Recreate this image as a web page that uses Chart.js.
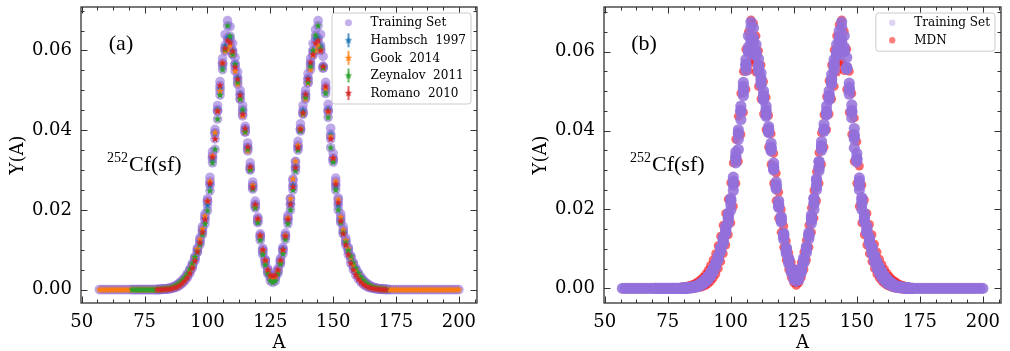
<!DOCTYPE html>
<html>
<head>
<meta charset="utf-8">
<script src="https://cdn.jsdelivr.net/npm/chart.js@4.4.1/dist/chart.umd.min.js"></script>
<style>
  body { margin: 0; background: #fff; }
  #wrap { position: relative; width: 1010px; height: 351px; }
  canvas { position: absolute; top: 0; }
</style>
</head>
<body>
<div id="wrap">
  <canvas id="cva" width="505" height="351" style="left:0px"></canvas>
  <canvas id="cvb" width="505" height="351" style="left:505px"></canvas>
</div>
<script>
// axes
const xTicks = [50, 75, 100, 125, 150, 175, 200];
const yTicks = [0, 0.02, 0.04, 0.06];
const xMinor = 6.25, yMinor = 0.005;
const xRange = [49.7, 207.2];
const yRangeA = [-0.00335, 0.0709];
const yRangeB = [-0.0037, 0.0713];

// experimental mass yields Y(A), first mass number then one value per A
const hambschA0 = 80;
const hambschY = [0.00002,0.00004,0.00009,0.00014,0.0002,0.0003,0.00045,0.0007,0.001,0.0014,
  0.0019,0.0026,0.0035,0.0046,0.0059,0.0077,0.0099,0.0121,0.0148,0.0178,
  0.0212,0.0262,0.0328,0.0392,0.0452,0.0505,0.0562,0.0612,0.0632,0.0630,
  0.0600,0.0566,0.0532,0.0490,0.0448,0.0402,0.0356,0.0306,0.0260,0.0212,
  0.0171,0.0131,0.0094,0.0068,0.0044,0.0030,0.0026,0.0030,0.0046,0.0069,
  0.0102,0.0135,0.0174,0.0215,0.0262,0.0308,0.0358,0.0403,0.0450,0.0488,
  0.0530,0.0566,0.0598,0.0630,0.0632,0.0612,0.0560,0.0502,0.0452,0.0390,
  0.0326,0.0260,0.0212,0.0177,0.0147,0.0121,0.0099,0.0076,0.0058,0.0046,
  0.0035,0.0025,0.0019,0.0013,0.0009,0.0006,0.0004,0.0003,0.0002,0.00014,
  0.00009,0.00005,0.00002];

const gookA0 = 57;
const gookY = [0,0,0,0,0,0,0,0,0,0, 0,0,0,0,0,0,0,0,0,0, 0,0,0,
  0.00001,0.00003,0.00008,0.00013,0.0002,0.0003,0.0005,0.0007,0.001,0.0014,
  0.002,0.0027,0.0036,0.0047,0.0061,0.0079,0.0102,0.0126,0.0152,0.0184,
  0.0222,0.0272,0.0336,0.0394,0.0448,0.0498,0.0568,0.0598,0.0602,0.0612,
  0.0590,0.0548,0.0515,0.0478,0.0436,0.0395,0.0348,0.0302,0.0262,0.0208,
  0.0175,0.0134,0.0098,0.0072,0.0046,0.0033,0.0028,0.0031,0.0046,0.0070,
  0.0098,0.0136,0.0180,0.0228,0.0278,0.0322,0.0362,0.0404,0.0440,0.0478,
  0.0518,0.0552,0.0588,0.0600,0.0612,0.0600,0.0556,0.0504,0.0446,0.0384,
  0.0328,0.0272,0.0226,0.0182,0.0150,0.0124,0.0103,0.0080,0.0062,0.0048,
  0.0037,0.0027,0.0020,0.0014,0.0010,0.0007,0.0005,0.0003,0.0002,0.00013,
  0.00008,0.00004,0.00002,
  0,0,0,0,0,0,0,0,0,0, 0,0,0,0,0,0,0,0,0,0, 0,0,0,0,0,0,0,0];

const zeynalovA0 = 70;
const zeynalovY = [0,0,0,0,0,0,0,0,0,0,
  0.00004,0.00007,0.00012,0.0002,0.0003,0.0004,0.0006,0.0009,0.0013,0.0018,
  0.0024,0.0031,0.0040,0.0052,0.0066,0.0082,0.0094,0.0113,0.0138,0.0165,
  0.0198,0.0248,0.0318,0.0352,0.0428,0.0488,0.0552,0.0602,0.0662,0.0636,
  0.0590,0.0565,0.0520,0.0478,0.0452,0.0396,0.0352,0.0300,0.0252,0.0205,
  0.0168,0.0124,0.0088,0.0062,0.0040,0.0022,0.0018,0.0022,0.0040,0.0064,
  0.0090,0.0126,0.0165,0.0200,0.0250,0.0298,0.0350,0.0398,0.0442,0.0482,
  0.0520,0.0560,0.0600,0.0638,0.0662,0.0605,0.0556,0.0492,0.0432,0.0356,
  0.0320,0.0250,0.0200,0.0168,0.0142,0.0118,0.0098,0.0084,0.0068,0.0054,
  0.0042,0.0032,0.0024,0.0018,0.0013,0.0009,0.0006,0.0004,0.0003,0.0002,
  0.0001,0.00006];

const romanoA0 = 80;
const romanoY = [0.00002,0.00003,0.00005,0.0001,0.00012,0.0002,0.0003,0.0005,0.0007,0.0011,
  0.0016,0.0022,0.0030,0.0041,0.0054,0.0072,0.0095,0.0118,0.0144,0.0176,
  0.0222,0.0266,0.0332,0.0378,0.0448,0.0512,0.0568,0.0605,0.0625,0.0620,
  0.0598,0.0558,0.0528,0.0488,0.0440,0.0404,0.0358,0.0308,0.0256,0.0214,
  0.0178,0.0136,0.0100,0.0074,0.0050,0.0036,0.0034,0.0036,0.0050,0.0074,
  0.0100,0.0134,0.0176,0.0214,0.0258,0.0306,0.0356,0.0402,0.0444,0.0490,
  0.0528,0.0570,0.0590,0.0618,0.0625,0.0600,0.0560,0.0510,0.0448,0.0378,
  0.0330,0.0264,0.0218,0.0172,0.0140,0.0112,0.0088,0.0066,0.0050,0.0037,
  0.0027,0.0019,0.0013,0.0009,0.0006,0.0004,0.0003,0.0002,0.00012,0.00008,
  0.00005,0.00002];

// other evaluations that are only part of the training set
const otherA0 = 80;
const otherY = [0.00003,0.00006,0.0001,0.00016,0.00025,0.00035,0.0005,0.0007,0.001,0.0015,
  0.002,0.0028,0.0037,0.0049,0.0062,0.0080,0.0104,0.0130,0.0158,0.0190,
  0.0228,0.0282,0.0346,0.0402,0.0462,0.0522,0.0580,0.0640,0.0675,0.0660,
  0.0618,0.0582,0.0546,0.0500,0.0462,0.0410,0.0368,0.0318,0.0270,0.0222,
  0.0182,0.0140,0.0104,0.0076,0.0052,0.0038,0.0030,0.0036,0.0052,0.0078,
  0.0106,0.0142,0.0186,0.0228,0.0274,0.0320,0.0372,0.0416,0.0462,0.0500,
  0.0542,0.0580,0.0618,0.0652,0.0675,0.0640,0.0585,0.0520,0.0465,0.0405,
  0.0342,0.0280,0.0230,0.0190,0.0158,0.0130,0.0106,0.0084,0.0066,0.0051,
  0.0040,0.0030,0.0022,0.0016,0.0011,0.0008,0.0005,0.0004,0.0003,0.0002,
  0.00012,0.00007,0.00003];

// MDN samples (upper and lower spread)
const mdnA0 = 80;
const mdnHiY = [0.0003,0.0004,0.0005,0.0006,0.0008,0.0010,0.0013,0.0017,0.0022,0.0028,
  0.0036,0.0046,0.0058,0.0072,0.0088,0.0108,0.0132,0.0160,0.0190,0.0226,
  0.0268,0.0318,0.0378,0.0436,0.0494,0.0550,0.0606,0.0650,0.0680,0.0672,
  0.0640,0.0602,0.0566,0.0524,0.0484,0.0438,0.0392,0.0342,0.0292,0.0244,
  0.0200,0.0158,0.0120,0.0090,0.0066,0.0050,0.0044,0.0050,0.0066,0.0092,
  0.0122,0.0160,0.0204,0.0248,0.0296,0.0344,0.0394,0.0440,0.0486,0.0526,
  0.0566,0.0604,0.0640,0.0668,0.0680,0.0652,0.0606,0.0550,0.0494,0.0432,
  0.0372,0.0310,0.0262,0.0224,0.0190,0.0162,0.0136,0.0112,0.0092,0.0074,
  0.0060,0.0048,0.0038,0.0030,0.0023,0.0018,0.0014,0.0010,0.0008,0.0006,
  0.0004,0.0003,0.0002];
const mdnLoY = [-0.0002,-0.0002,-0.0002,-0.0001,-0.0001,0,0.0001,0.0002,0.0003,0.0005,
  0.0008,0.0012,0.0018,0.0026,0.0036,0.0050,0.0068,0.0088,0.0110,0.0136,
  0.0166,0.0208,0.0266,0.0322,0.0390,0.0446,0.0504,0.0552,0.0578,0.0572,
  0.0548,0.0512,0.0480,0.0442,0.0402,0.0358,0.0314,0.0266,0.0222,0.0178,
  0.0142,0.0104,0.0072,0.0048,0.0028,0.0014,0.0008,0.0014,0.0028,0.0048,
  0.0072,0.0104,0.0142,0.0178,0.0222,0.0266,0.0314,0.0358,0.0402,0.0442,
  0.0480,0.0512,0.0548,0.0568,0.0574,0.0552,0.0504,0.0446,0.0390,0.0322,
  0.0266,0.0208,0.0166,0.0136,0.0110,0.0088,0.0068,0.0050,0.0036,0.0026,
  0.0018,0.0012,0.0008,0.0005,0.0003,0.0001,0,-0.0001,-0.0002,-0.0002,
  -0.0002,-0.0001,0];

const purple = '147,112,219';
const cBlue = '#1f77b4', cOrange = '#ff7f0e', cGreen = '#2ca02c', cRed = '#d62728';

Chart.defaults.font.family = '"DejaVu Serif", serif';
Chart.defaults.color = '#000';

function pts(a0, ys) {
  return ys.map((y, i) => ({ x: a0 + i, y: y }));
}

// filled star marker (optionally with a vertical error bar, for the legend)
function starImg(color, r, barHalf) {
  const size = Math.ceil(2 * Math.max(r, barHalf || 0) + 2);
  const c = document.createElement('canvas');
  c.width = size; c.height = size;
  const g = c.getContext('2d');
  const cx = size / 2, cy = size / 2;
  if (barHalf) {
    g.strokeStyle = color; g.lineWidth = 1.5;
    g.beginPath(); g.moveTo(cx, cy - barHalf); g.lineTo(cx, cy + barHalf); g.stroke();
  }
  g.fillStyle = color;
  g.beginPath();
  for (let k = 0; k < 10; k++) {
    const rr = k % 2 ? r * 0.42 : r;
    const a = -Math.PI / 2 + k * Math.PI / 5;
    g.lineTo(cx + rr * Math.cos(a), cy + rr * Math.sin(a));
  }
  g.closePath(); g.fill();
  return c;
}

const trainPts = [].concat(pts(hambschA0, hambschY), pts(gookA0, gookY),
  pts(zeynalovA0, zeynalovY), pts(romanoA0, romanoY), pts(otherA0, otherY));

const deco = {
  id: 'deco',
  afterDatasetsDraw(chart) {
    const ctx = chart.ctx, ca = chart.chartArea;
    const sx = chart.scales.x, sy = chart.scales.y;
    ctx.save();
    ctx.strokeStyle = '#333';
    ctx.lineWidth = 1;
    ctx.beginPath();
    for (let k = Math.ceil(sx.min / xMinor); k * xMinor <= sx.max; k++) {
      const len = k % 4 === 0 ? 6.5 : 3.5;
      const px = Math.round(sx.getPixelForValue(k * xMinor)) + 0.5;
      ctx.moveTo(px, ca.bottom); ctx.lineTo(px, ca.bottom - len);
      ctx.moveTo(px, ca.top); ctx.lineTo(px, ca.top + len);
    }
    for (let k = Math.ceil(sy.min / yMinor); k * yMinor <= sy.max; k++) {
      const len = k % 4 === 0 ? 6.5 : 3.5;
      const py = Math.round(sy.getPixelForValue(k * yMinor)) + 0.5;
      ctx.moveTo(ca.left, py); ctx.lineTo(ca.left + len, py);
      ctx.moveTo(ca.right, py); ctx.lineTo(ca.right - len, py);
    }
    ctx.stroke();
    ctx.lineWidth = 1.3;
    ctx.strokeRect(ca.left, ca.top, ca.right - ca.left, ca.bottom - ca.top);
    ctx.restore();
  },
  afterDraw(chart) {
    const o = chart.options.plugins.deco;
    const ctx = chart.ctx, ca = chart.chartArea;
    ctx.save();
    // panel tag and reaction
    ctx.fillStyle = '#000';
    ctx.textBaseline = 'middle';
    ctx.textAlign = 'center';
    ctx.font = '22px "Liberation Serif"';
    ctx.fillText(o.tag, ca.left + 40, ca.top + 37);
    ctx.textAlign = 'left';
    ctx.textBaseline = 'alphabetic';
    ctx.font = '14px "Liberation Serif"';
    const x0 = ca.left + 26;
    ctx.fillText('252', x0, ca.top + 155);
    const w0 = ctx.measureText('252').width;
    ctx.font = '22px "Liberation Serif"';
    ctx.fillText('Cf(sf)', x0 + w0 + 1, ca.top + 163.5);

    // legend
    ctx.font = '12px "DejaVu Serif"';
    let tw = 0;
    o.legend.forEach(it => { tw = Math.max(tw, ctx.measureText(it.text).width); });
    const rowH = 17.6;
    const bw = 38.5 + tw + 5, bh = rowH * o.legend.length + 3;
    const bx = ca.right - 6 - bw, by = ca.top + 6;
    ctx.beginPath();
    if (ctx.roundRect) ctx.roundRect(bx, by, bw, bh, 3); else ctx.rect(bx, by, bw, bh);
    ctx.fillStyle = 'rgba(255,255,255,0.8)';
    ctx.fill();
    ctx.strokeStyle = '#cccccc';
    ctx.lineWidth = 1;
    ctx.stroke();
    ctx.textBaseline = 'middle';
    o.legend.forEach((it, i) => {
      const cy = by + 9.7 + i * rowH, mx = bx + 16.4;
      if (it.kind === 'star') {
        const img = starImg(it.color, 4, 7);
        ctx.drawImage(img, mx - img.width / 2, cy - img.height / 2);
      } else {
        ctx.fillStyle = it.color;
        ctx.beginPath(); ctx.arc(mx, cy, it.r, 0, Math.PI * 2); ctx.fill();
      }
      ctx.fillStyle = '#000';
      ctx.fillText(it.text, bx + 38.5, cy + 0.5);
    });
    ctx.restore();
  }
};

function makeChart(id, datasets, yRange, yAxisW, padRight, yTitlePad, tag, legend) {
  return new Chart(document.getElementById(id), {
    type: 'scatter',
    data: { datasets: datasets },
    options: {
      responsive: false,
      animation: false,
      events: [],
      layout: { padding: { left: 0, top: 7, right: padRight, bottom: 0 } },
      plugins: {
        legend: { display: false },
        tooltip: { enabled: false },
        deco: { tag: tag, legend: legend }
      },
      scales: {
        x: {
          type: 'linear', min: xRange[0], max: xRange[1],
          afterBuildTicks: s => { s.ticks = xTicks.map(v => ({ value: v })); },
          afterFit: s => { s.height = 48; s.paddingLeft = 0; s.paddingRight = 0; },
          grid: { display: false, drawTicks: false }, border: { display: false },
          ticks: { font: { size: 18 }, color: '#000', padding: 9, maxRotation: 0, autoSkip: false,
                   callback: v => String(v) },
          title: { display: true, text: 'A', font: { size: 18 }, color: '#000', padding: { top: 0, bottom: -3 } }
        },
        y: {
          type: 'linear', min: yRange[0], max: yRange[1],
          afterBuildTicks: s => { s.ticks = yTicks.map(v => ({ value: v })); },
          afterFit: s => { s.width = yAxisW; s.paddingTop = 0; s.paddingBottom = 0; },
          grid: { display: false, drawTicks: false }, border: { display: false },
          ticks: { font: { size: 18 }, color: '#000', padding: 9, autoSkip: false,
                   callback: v => v.toFixed(2) },
          title: { display: true, text: 'Y(A)', font: { size: 18 }, color: '#000', padding: { top: yTitlePad, bottom: 0 } }
        }
      }
    },
    plugins: [deco]
  });
}

// panel (a): training set with experimental data
const starR = 4;
makeChart('cva', [
  { label: 'Training Set', data: trainPts, pointRadius: 4.8, pointBorderWidth: 0,
    pointBackgroundColor: 'rgba(' + purple + ',0.6)', order: 5 },
  { label: 'Hambsch  1997', data: pts(hambschA0, hambschY), pointStyle: starImg(cBlue, starR), pointRadius: 4, order: 4 },
  { label: 'Gook  2014', data: pts(gookA0, gookY), pointStyle: starImg(cOrange, starR), pointRadius: 4, order: 3 },
  { label: 'Zeynalov  2011', data: pts(zeynalovA0, zeynalovY), pointStyle: starImg(cGreen, starR), pointRadius: 4, order: 2 },
  { label: 'Romano  2010', data: pts(romanoA0, romanoY), pointStyle: starImg(cRed, starR), pointRadius: 4, order: 1 }
], yRangeA, 81, 28, 7.2, '(a)', [
  { text: 'Training Set', kind: 'circle', r: 3.5, color: 'rgba(' + purple + ',0.55)' },
  { text: 'Hambsch  1997', kind: 'star', color: cBlue },
  { text: 'Gook  2014', kind: 'star', color: cOrange },
  { text: 'Zeynalov  2011', kind: 'star', color: cGreen },
  { text: 'Romano  2010', kind: 'star', color: cRed }
]);

// panel (b): training set with MDN samples
makeChart('cvb', [
  { label: 'Training Set', data: trainPts, pointRadius: 5.6, pointBorderWidth: 0,
    pointBackgroundColor: 'rgba(' + purple + ',0.85)', order: 1 },
  { label: 'MDN', data: pts(mdnA0, mdnHiY).concat(pts(mdnA0, mdnLoY)), pointRadius: 4.5, pointBorderWidth: 0,
    pointBackgroundColor: 'rgba(255,0,0,0.6)', order: 2 }
], yRangeB, 99, 9, 26, '(b)', [
  { text: 'Training Set', kind: 'circle', r: 3.2, color: 'rgba(' + purple + ',0.3)' },
  { text: 'MDN', kind: 'circle', r: 3.2, color: 'rgba(255,0,0,0.5)' }
]);
</script>
</body>
</html>
